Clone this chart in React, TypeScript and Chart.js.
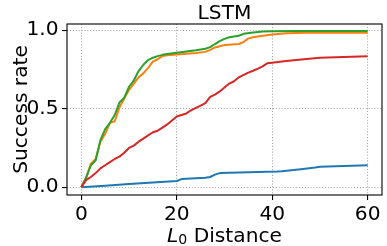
import React, { useEffect, useRef } from "react";
import { Chart, registerables } from "chart.js";
Chart.register(...registerables);

const titleText = "LSTM";
const yLabelText = "Success rate";
const xLabelVar = "L";
const xLabelSub = "0";
const xLabelRest = " Distance";

const xTicks = [0, 20, 40, 60];
const yTicks = [0, 0.5, 1.0];
const yTickLabels = ["0.0", "0.5", "1.0"];

const seriesNames = ["Series A", "Series B", "Series C", "Series D"];
const seriesColors = ["#1f77b4", "#ff7f0e", "#2ca02c", "#d62728"];

const blueX = [0, 5, 10, 15, 20, 21, 26, 27, 28, 29, 35, 41, 42, 46, 49, 50, 55, 60];
const blueY = [0, 0.01, 0.02, 0.03, 0.04, 0.052, 0.06, 0.065, 0.08, 0.09, 0.095, 0.1, 0.102, 0.115, 0.125, 0.13, 0.135, 0.14];

const orangeX = [0, 1, 2, 3, 4, 5, 6, 7, 8, 9, 10, 11, 12, 13, 14, 15, 16, 17, 18, 20, 22, 24, 26, 27, 28, 29, 30, 33, 34, 35, 36, 38, 40, 43, 47, 60];
const orangeY = [0, 0.06, 0.15, 0.18, 0.29, 0.34, 0.41, 0.42, 0.51, 0.565, 0.62, 0.66, 0.7, 0.725, 0.76, 0.8, 0.815, 0.835, 0.84, 0.845, 0.85, 0.855, 0.862, 0.875, 0.89, 0.898, 0.905, 0.912, 0.925, 0.948, 0.955, 0.965, 0.972, 0.98, 0.983, 0.983];

const greenX = [0, 1, 2, 3, 4, 5, 6, 7, 8, 9, 10, 11, 12, 13, 14, 15, 16, 17, 18, 20, 22, 24, 26, 27, 28, 29, 30, 31, 33, 34, 36, 38, 40, 45, 60];
const greenY = [0, 0.06, 0.14, 0.17, 0.3, 0.37, 0.41, 0.46, 0.54, 0.57, 0.64, 0.68, 0.74, 0.78, 0.81, 0.825, 0.835, 0.843, 0.848, 0.856, 0.865, 0.872, 0.882, 0.892, 0.912, 0.93, 0.945, 0.955, 0.965, 0.977, 0.986, 0.991, 0.994, 0.995, 0.995];

const redX = [0, 1, 2, 3, 4, 5, 6, 7, 8, 9, 10, 11, 12, 13, 14, 15, 16, 17, 18, 19, 20, 21, 22, 23, 24, 25, 26, 27, 28, 29, 30, 31, 32, 33, 34, 35, 36, 37, 38, 39, 40, 42, 45, 50, 55, 60];
const redY = [0, 0.045, 0.065, 0.09, 0.12, 0.14, 0.16, 0.18, 0.195, 0.22, 0.25, 0.265, 0.29, 0.31, 0.33, 0.35, 0.36, 0.38, 0.4, 0.425, 0.45, 0.46, 0.47, 0.49, 0.505, 0.52, 0.535, 0.575, 0.59, 0.61, 0.635, 0.66, 0.675, 0.7, 0.715, 0.73, 0.742, 0.755, 0.77, 0.79, 0.793, 0.8, 0.81, 0.825, 0.83, 0.834];

const seriesX = [blueX, orangeX, greenX, redX];
const seriesY = [blueY, orangeY, greenY, redY];

const FONT = "'DejaVu Sans', sans-serif";
const FS = 20.2;

const decorPlugin = {
  id: "decor",
  afterDatasetsDraw(chart: any) {
    const { ctx, chartArea: a } = chart;
    ctx.save();
    ctx.strokeStyle = "#000";
    ctx.lineWidth = 1.1;
    ctx.strokeRect(a.left, a.top, a.right - a.left, a.bottom - a.top);

    ctx.fillStyle = "#000";
    ctx.font = `${FS}px ${FONT}`;
    ctx.textAlign = "center";
    ctx.textBaseline = "alphabetic";
    ctx.fillText(titleText, (a.left + a.right) / 2, 18.5);

    ctx.save();
    ctx.translate(27, (a.top + a.bottom) / 2);
    ctx.rotate(-Math.PI / 2);
    ctx.fillText(yLabelText, 0, 0);
    ctx.restore();

    const fIt = `italic ${FS}px ${FONT}`;
    const fSub = `${FS * 0.7}px ${FONT}`;
    const fMain = `${FS}px ${FONT}`;
    ctx.font = fIt;
    const w1 = ctx.measureText(xLabelVar).width;
    ctx.font = fSub;
    const w2 = ctx.measureText(xLabelSub).width;
    ctx.font = fMain;
    const w3 = ctx.measureText(xLabelRest).width;
    const total = w1 + w2 + w3;
    let x = (a.left + a.right) / 2 - total / 2;
    const base = 241.5;
    ctx.textAlign = "left";
    ctx.font = fIt;
    ctx.fillText(xLabelVar, x, base);
    x += w1;
    ctx.font = fSub;
    ctx.fillText(xLabelSub, x, base + 2.5);
    x += w2;
    ctx.font = fMain;
    ctx.fillText(xLabelRest, x, base);
    ctx.restore();
  },
};

export default function App() {
  const ref = useRef<HTMLCanvasElement | null>(null);
  useEffect(() => {
    if (!ref.current) return;
    const datasets = seriesNames.map((name, i) => ({
      label: name,
      data: seriesX[i].map((xv, j) => ({ x: xv, y: seriesY[i][j] })),
      borderColor: seriesColors[i],
      backgroundColor: seriesColors[i],
      borderWidth: 2,
      pointRadius: 0,
      tension: 0,
      fill: false,
      borderJoinStyle: "round" as const,
      order: 3 - i,
    }));
    const chart = new Chart(ref.current, {
      type: "line",
      data: { datasets },
      options: {
        animation: false,
        responsive: false,
        devicePixelRatio: 1,
        layout: { padding: { top: 24, right: 5, left: 0, bottom: 0 } },
        plugins: { legend: { display: false }, title: { display: false }, tooltip: { enabled: false } },
        scales: {
          x: {
            type: "linear",
            min: -3,
            max: 63,
            afterBuildTicks: (s: any) => {
              s.ticks = xTicks.map((v) => ({ value: v }));
            },
            afterFit: (s: any) => {
              s.height = 51;
            },
            ticks: {
              font: { family: FONT, size: FS },
              color: "#000",
              padding: 3,
              maxRotation: 0,
              callback: (v: any) => String(v),
            },
            grid: { color: "#a8a8a8", lineWidth: 1.1, tickColor: "#000", tickLength: 5, tickWidth: 1.1 },
            border: { display: false, dash: [1.1, 1.8] },
          },
          y: {
            type: "linear",
            min: -0.0495,
            max: 1.0395,
            afterBuildTicks: (s: any) => {
              s.ticks = yTicks.map((v) => ({ value: v }));
            },
            afterFit: (s: any) => {
              s.width = 67;
            },
            ticks: {
              font: { family: FONT, size: FS },
              color: "#000",
              padding: 3.5,
              callback: (v: any) => {
                const k = yTicks.indexOf(v);
                return k >= 0 ? yTickLabels[k] : "";
              },
            },
            grid: { color: "#a8a8a8", lineWidth: 1.1, tickColor: "#000", tickLength: 5, tickWidth: 1.1 },
            border: { display: false, dash: [1.1, 1.8] },
          },
        },
      },
      plugins: [decorPlugin],
    });
    return () => chart.destroy();
  }, []);
  return (
    <div style={{ position: "absolute", left: 0, top: 0, width: 387, height: 246 }}>
      <canvas ref={ref} width={387} height={246} style={{ width: 387, height: 246 }} />
    </div>
  );
}
